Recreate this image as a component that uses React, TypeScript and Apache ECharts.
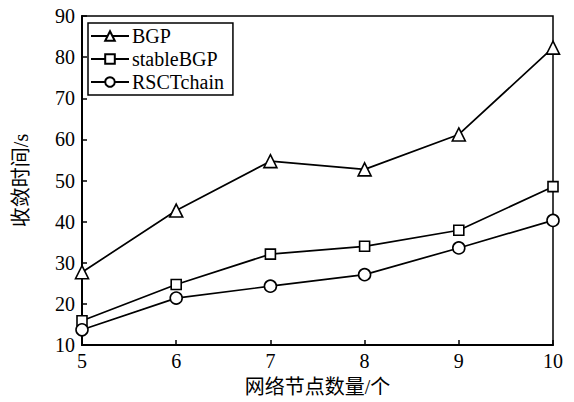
import React, { useEffect, useRef } from "react";
import * as echarts from "echarts";

const nodeCounts = [5, 6, 7, 8, 9, 10];
const bgp = [27.7, 42.7, 54.7, 52.7, 61.2, 82.3];
const stableBgp = [15.9, 24.7, 32.1, 34.0, 37.9, 48.5];
const rsctChain = [13.7, 21.4, 24.3, 27.1, 33.6, 40.3];
const seriesNames = ["BGP", "stableBGP", "RSCTchain"];

const FONT = "'Liberation Serif', 'Times New Roman', 'Noto Sans CJK SC', serif";

export default function App() {
  const ref = useRef<HTMLDivElement>(null);
  useEffect(() => {
    if (!ref.current) return;
    const chart = echarts.init(ref.current, undefined, { renderer: "svg" });
    const mk = (name: string, data: number[], symbol: string, size: number) => ({
      name,
      type: "line",
      data: nodeCounts.map((x, i) => [x, data[i]]),
      symbol,
      symbolSize: size,
      showAllSymbol: true,
      lineStyle: { color: "#000", width: 1.7 },
      itemStyle: { color: "#fff", borderColor: "#000", borderWidth: 1.6 },
      emphasis: { disabled: true },
      z: 3,
    });
    chart.setOption({
      animation: false,
      backgroundColor: "#fff",
      textStyle: { fontFamily: FONT, color: "#000" },
      grid: {
        left: 82,
        right: 21,
        top: 16,
        bottom: 55,
        show: true,
        borderColor: "#000",
        borderWidth: 1.5,
        backgroundColor: "transparent",
      },
      legend: {
        data: seriesNames,
        orient: "vertical",
        left: 88,
        top: 23,
        padding: [3, 9, 3, 2],
        itemGap: 3,
        itemWidth: 38,
        itemHeight: 12,
        borderColor: "#000",
        borderWidth: 1.5,
        backgroundColor: "#fff",
        textStyle: { fontFamily: FONT, fontSize: 20, color: "#000", padding: [0, 0, 0, -2] },
        inactiveColor: "#000",
      },
      xAxis: {
        type: "value",
        min: 5,
        max: 10,
        interval: 1,
        name: "网络节点数量/个",
        nameLocation: "middle",
        nameGap: 32,
        nameTextStyle: { fontFamily: FONT, fontSize: 20, color: "#000" },
        axisLine: { show: true, lineStyle: { color: "#000", width: 2 } },
        axisTick: { show: true, inside: true, length: 5, lineStyle: { color: "#000", width: 1.5 } },
        axisLabel: { fontFamily: FONT, fontSize: 20, color: "#000", margin: 6 },
        splitLine: { show: false },
      },
      yAxis: {
        type: "value",
        min: 10,
        max: 90,
        interval: 10,
        name: "收敛时间/s",
        nameLocation: "middle",
        nameGap: 51,
        nameRotate: 90,
        nameTextStyle: { fontFamily: FONT, fontSize: 20, color: "#000" },
        axisLine: { show: true, lineStyle: { color: "#000", width: 2 } },
        axisTick: { show: true, inside: true, length: 5, lineStyle: { color: "#000", width: 1.5 } },
        axisLabel: { fontFamily: FONT, fontSize: 20, color: "#000", margin: 7 },
        splitLine: { show: false },
      },
      series: [
        mk("BGP", bgp, "triangle", 13),
        mk("stableBGP", stableBgp, "rect", 10),
        mk("RSCTchain", rsctChain, "circle", 12),
      ],
    });
    return () => chart.dispose();
  }, []);
  return (
    <div
      ref={ref}
      style={{ position: "fixed", left: 0, top: 0, width: 574, height: 402, background: "#fff" }}
    />
  );
}
